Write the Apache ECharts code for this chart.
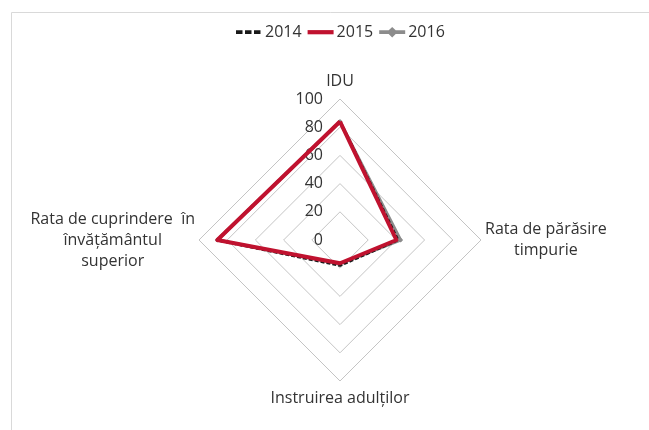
<!DOCTYPE html>
<html><head><meta charset="utf-8">
<script src="https://cdn.jsdelivr.net/npm/echarts@6/dist/echarts.min.js"></script>
<style>html,body{margin:0;padding:0;background:#fff}#c{width:649px;height:430px}</style>
</head><body><div id="c"></div>
<script>
// Indicators in ECharts (counter-clockwise) order: top, left, bottom, right
const indicatorNames = ['IDU', 'Rata de cuprindere  în\nînvățământul\nsuperior', 'Instruirea adulților', 'Rata de părăsire\ntimpurie'];
const seriesNames = ['2014', '2015', '2016'];
const values2014 = [84, 87, 18, 41];
const values2015 = [84, 87, 16.5, 40];
const values2016 = [84, 87, 17, 43];
const axisMax = 100;

const font = 'Open Sans';
const chart = echarts.init(document.getElementById('c'));
const nameStyleKey = ['t', 'c', 'b', 'c'];
chart.setOption({
  animation: false,
  graphic: [{ type: 'rect', shape: { x: 11.5, y: 12.5, width: 700, height: 500 }, style: { fill: 'none', stroke: '#d9d9d9', lineWidth: 1 }, silent: true }],
  legend: {
    top: 19, left: 231, itemWidth: 26, itemHeight: 14, itemGap: 6,
    textStyle: { fontFamily: font, fontSize: 16, color: '#333', padding: [0, 0, 0, -2] },
    itemStyle: { borderWidth: 0 },
    data: [
      { name: '2014', icon: 'path://M0,0M26,14M0,5.3h6.5v3.8h-6.5zM9,5.3h6.5v3.8h-6.5zM18,5.3h6.5v3.8h-6.5z' },
      { name: '2015', icon: 'path://M0,0M26,14M0,5.1h26v4.2h-26z' },
      { name: '2016', icon: 'path://M0,0M26,14M0,5.3h9.5l3.5,-3.3l3.5,3.3h9.5v3.8h-9.5l-3.5,3.3l-3.5,-3.3h-9.5z' }
    ]
  },
  radar: {
    center: [340, 240], radius: 141, startAngle: 90, shape: 'polygon', splitNumber: 5,
    nameGap: 4,
    axisName: {
      color: '#333', fontFamily: font, fontSize: 16,
      formatter: function (name) {
        const k = nameStyleKey[indicatorNames.indexOf(name)];
        return name.split('\n').map(l => '{' + k + '|' + l + '}').join('\n');
      },
      rich: {
        c: { align: 'center', fontFamily: font, fontSize: 16, lineHeight: 21, color: '#333' },
        t: { align: 'center', fontFamily: font, fontSize: 16, lineHeight: 21, color: '#333', padding: [0, 0, 2, 0] },
        b: { align: 'center', fontFamily: font, fontSize: 16, lineHeight: 21, color: '#333', padding: [6, 0, 0, 0] }
      }
    },
    indicator: indicatorNames.map((n, i) => i === 0
      ? { name: n, min: 0, max: axisMax, axisLabel: { show: true } }
      : { name: n, min: 0, max: axisMax }),
    axisLine: { show: false },
    axisTick: { show: false },
    axisLabel: { show: false, margin: 17, fontFamily: font, fontSize: 16, color: '#333' },
    splitLine: { lineStyle: { color: '#c4c4c4', width: 1 } },
    splitArea: { show: false }
  },
  series: [{
    type: 'radar', z: 1,
    data: [
      { name: '2016', value: values2016, symbol: 'diamond', symbolSize: 5,
        itemStyle: { color: '#8c8c8c' }, lineStyle: { color: '#8c8c8c', width: 3 } }
    ]
  }, {
    type: 'radar', z: 2,
    data: [
      { name: '2014', value: values2014, symbol: 'none',
        itemStyle: { color: '#1a1a1a' }, lineStyle: { color: '#1a1a1a', width: 3, type: [4, 2] } },
      { name: '2015', value: values2015, symbol: 'none',
        itemStyle: { color: '#c0122f' }, lineStyle: { color: '#c0122f', width: 4 } }
    ]
  }]
});
</script></body></html>
